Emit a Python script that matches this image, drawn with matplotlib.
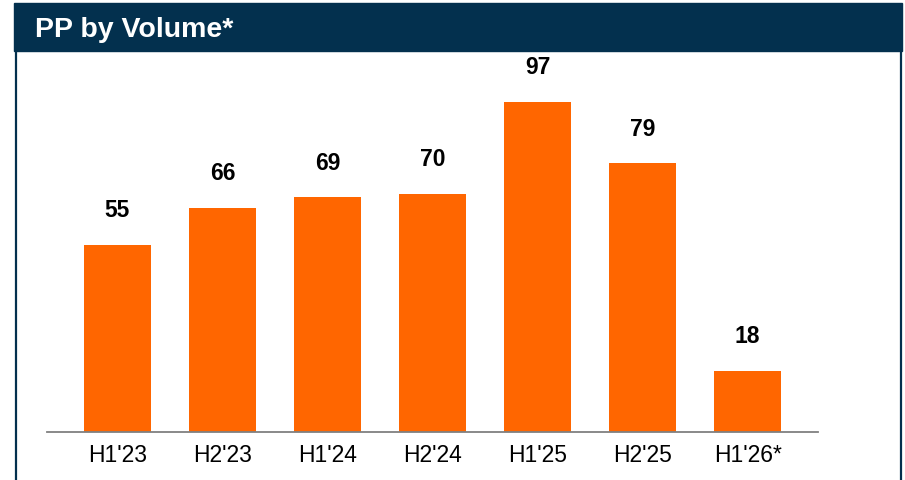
import matplotlib
matplotlib.use("Agg")
import matplotlib.pyplot as plt
from matplotlib.patches import Rectangle
from matplotlib.lines import Line2D

categories = ["H1'23", "H2'23", "H1'24", "H2'24", "H1'25", "H2'25", "H1'26*"]
values = [55, 66, 69, 70, 97, 79, 18]
title = "PP by Volume*"

NAVY = "#03304E"
ORANGE = "#FF6600"
W, H = 905, 480

plt.rcParams['font.family'] = ['Liberation Sans', 'DejaVu Sans']
fig = plt.figure(figsize=(W / 100, H / 100), dpi=100)

# header bar and frame
fig.patches.append(Rectangle((14 / W, 1 - 51 / H), (902 - 14) / W, 48 / H,
                             transform=fig.transFigure, color=NAVY, zorder=0))
fig.lines.append(Line2D([15.5 / W, 15.5 / W], [0, 1 - 50 / H], transform=fig.transFigure,
                        color=NAVY, lw=1.6))
fig.lines.append(Line2D([900.5 / W, 900.5 / W], [0, 1 - 50 / H], transform=fig.transFigure,
                        color=NAVY, lw=1.6))
fig.text(35 / W, 1 - 37 / H, title, color="white", fontsize=20.5, fontweight="bold",
         ha="left", va="baseline")

ax = fig.add_axes([47 / W, 48 / H, (818 - 47) / W, (432 - 55) / H])
x = range(len(categories))
bars = ax.bar(x, values, width=0.64, color=ORANGE, zorder=2)
ax.set_xlim(-0.67, len(categories) - 1 + 0.67)
ax.set_ylim(0, (432 - 55) / 3.4)
for xi, v in zip(x, values):
    ax.annotate(str(v), (xi, v), xytext=(0, 20), textcoords="offset points",
                ha="center", va="baseline", fontsize=16.5, fontweight="bold", color="black")
ax.set_xticks(list(x))
ax.set_xticklabels(categories, fontsize=16.5, color="black")
ax.tick_params(axis="x", length=0, pad=8.5)
ax.set_yticks([])
for s in ["top", "right", "left"]:
    ax.spines[s].set_visible(False)
ax.spines["bottom"].set_color("#808080")
ax.spines["bottom"].set_linewidth(1.3)
ax.patch.set_visible(False)

fig.savefig("out.png", dpi=100)
